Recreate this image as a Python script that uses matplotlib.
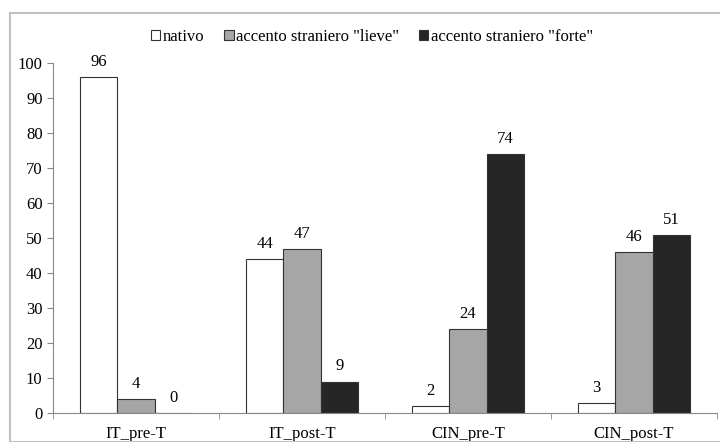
import matplotlib.pyplot as plt
from matplotlib.patches import Rectangle
import numpy as np

categories = ["IT_pre-T", "IT_post-T", "CIN_pre-T", "CIN_post-T"]
series_names = ["nativo", 'accento straniero "lieve"', 'accento straniero "forte"']
nativo = [96, 44, 2, 3]
lieve = [4, 47, 24, 46]
forte = [0, 9, 74, 51]
colors = ["#ffffff", "#a6a6a6", "#262626"]

plt.rcParams['font.family'] = ['Liberation Serif', 'DejaVu Serif']

fig = plt.figure(figsize=(7.2, 4.42), dpi=100)
fig.patches.append(Rectangle((10 / 720, 0), 1, 1 - 13 / 442, transform=fig.transFigure,
                             fill=False, edgecolor="#c0c0c0", linewidth=1.5))
ax = fig.add_axes([53 / 720, 29 / 442, 664 / 720, 350 / 442])

x = np.arange(len(categories))
w = 0.225
for i, (vals, name) in enumerate(zip([nativo, lieve, forte], series_names)):
    pos = x + (i - 1) * w
    ax.bar(pos, vals, w, color=colors[i], edgecolor="#333333", linewidth=0.8, label=name)
    for px, v in zip(pos, vals):
        ax.text(px, v + 2, str(v), ha="center", va="bottom", fontsize=12)

ax.set_xlim(-0.5, 3.5)
ax.set_ylim(0, 100)
ax.set_yticks(range(0, 101, 10))
ax.set_xticks(x)
ax.set_xticklabels(categories, fontsize=12)
ax.set_xticks(np.arange(-0.5, 4, 1), minor=True)
ax.tick_params(axis="x", which="major", length=0, pad=9)
ax.tick_params(axis="x", which="minor", length=4, color="#888888", direction="out")
ax.tick_params(axis="y", labelsize=12, length=4, color="#888888")
for s in ["top", "right"]:
    ax.spines[s].set_visible(False)
for s in ["left", "bottom"]:
    ax.spines[s].set_color("#888888")

fig.legend(loc="center", bbox_to_anchor=(372 / 720, 1 - 37 / 442), ncol=3, frameon=False,
           fontsize=12, handlelength=0.55, handleheight=0.55, handletextpad=0.15, columnspacing=1.2)

fig.savefig("out.png", dpi=100)
